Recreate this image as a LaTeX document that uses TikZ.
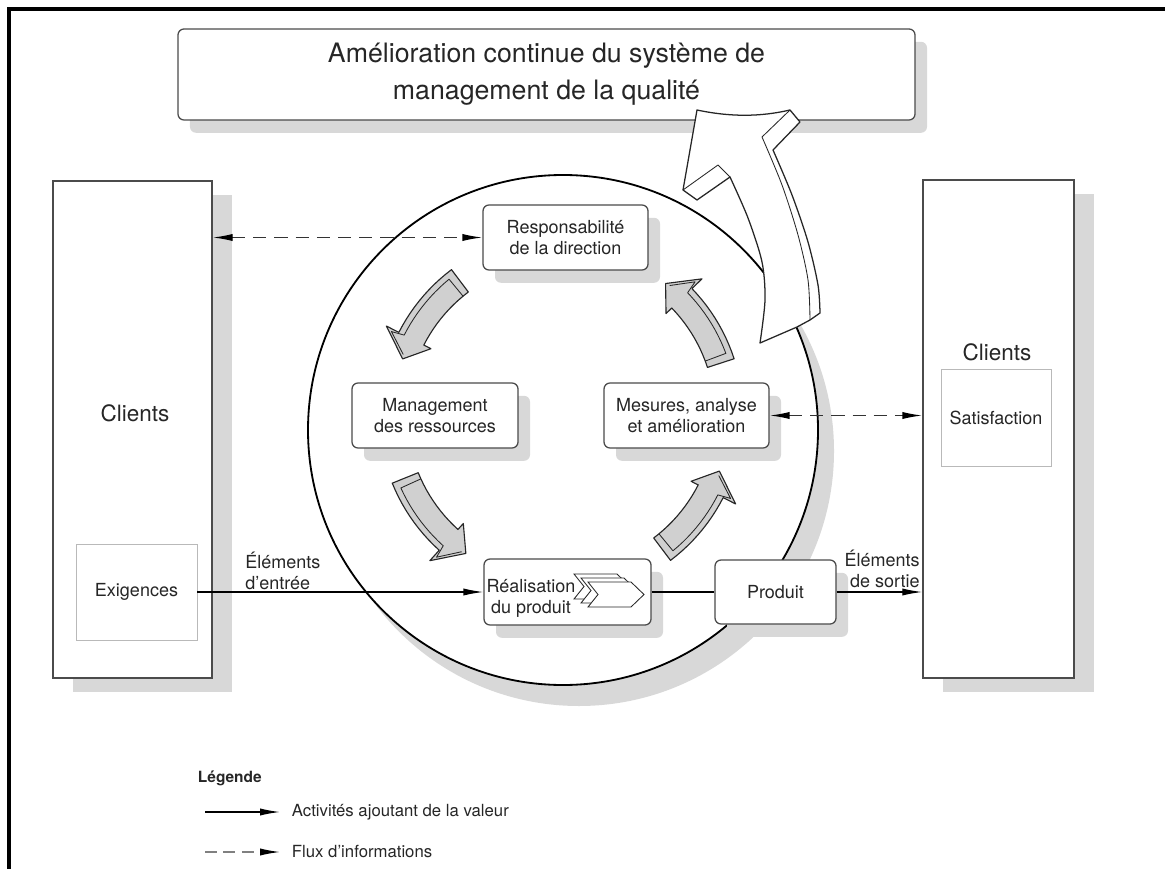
\documentclass[tikz,border=0pt]{standalone}
\usepackage{fontspec}
\setmainfont{TeX Gyre Heros}
\usetikzlibrary{arrows.meta, shadows, positioning, calc}

\definecolor{shadowgray}{RGB}{216,216,216}
\definecolor{arrowgray}{RGB}{208,208,208}
\definecolor{edgegray}{RGB}{75,75,75}
\definecolor{thingray}{RGB}{185,185,185}
\newcommand{\boxfont}{\fontsize{12.8}{15}\selectfont}

\tikzset{
  box/.style={draw=edgegray, line width=0.9pt, fill=white, rounded corners=1.5mm,
    align=center, font=\boxfont, text=black!85,
    drop shadow={shadow xshift=3mm, shadow yshift=-3.2mm, fill=shadowgray, opacity=1}},
  clientbox/.style={draw=edgegray, line width=1pt, fill=white,
    drop shadow={shadow xshift=5mm, shadow yshift=-3.6mm, fill=shadowgray, opacity=1}},
  inbox/.style={draw=thingray, line width=0.6pt, fill=white, font=\boxfont, text=black!85},
  txt/.style={font=\boxfont, text=black!85, inner sep=0pt},
  flow/.style={line width=0.9pt, -{Latex[length=5mm, width=1.8mm]}},
  info/.style={line width=1pt, draw=black!80, dash pattern=on 3.3mm off 2mm,
    {Latex[length=5mm, width=1.8mm, color=black]}-{Latex[length=5mm, width=1.8mm, color=black]}},
  cyclearr/.style={draw=black!85, line width=0.8pt, fill=arrowgray, line join=round},
  bevel/.style={draw=black!85, line width=0.6pt, line join=round},
  bigarr/.style={draw=black!85, line width=0.9pt, fill=white, line join=round},
}

\begin{document}
\begin{tikzpicture}[x=0.25mm, y=-0.25mm]
      \useasboundingbox (0,0) rectangle (1165,869);

      % Frame
      \draw[line width=2.2pt] (9,869) -- (9,9) -- (1165,9);

      % Title box
      \node[box, minimum width=184.25mm, minimum height=22.75mm,
            font=\fontsize{19}{26.3}\selectfont] (title) at (546.5,74.5)
            {Amélioration continue du système de\\management de la qualité};

      % Clients on both sides
      \node[clientbox, minimum width=39.75mm, minimum height=124.25mm] (clientsL) at (132.5,429.5) {};
      \node[font=\fontsize{16}{19}\selectfont, text=black!85] (clientsLtxt) at (135,413) {Clients};
      \node[inbox, minimum width=30.25mm, minimum height=24mm] (exig) at (136.5,592) {Exigences};

      \node[clientbox, minimum width=37.75mm, minimum height=124.5mm] (clientsR) at (998.5,429) {};
      \node[font=\fontsize{16}{19}\selectfont, text=black!85] (clientsRtxt) at (997,352) {Clients};
      \node[inbox, minimum width=27.5mm, minimum height=24.25mm] (satis) at (996,417.5) {Satisfaction};

      % Process circle
      \fill[shadowgray] (579,451) circle[radius=255];
      \draw[line width=1.3pt, fill=white] (563,430) circle[radius=255];

      % Processes
      \node[box, minimum width=41.25mm, minimum height=16.25mm] (resp) at (565.5,237.5) {Responsabilité\\de la direction};
      \node[box, minimum width=41.5mm, minimum height=16.25mm] (mgmt) at (435,415.5) {Management\\des ressources};
      \node[box, minimum width=41.25mm, minimum height=16.25mm] (mes) at (686.5,415.5) {Mesures, analyse\\et amélioration};
      \node[box, minimum width=41.75mm, minimum height=16.5mm] (real) at (567.5,592) {};
      \node[box, minimum width=30.25mm, minimum height=16mm] (prod) at (775.5,592) {Produit};

      % Stacked chevrons in the realisation box
      \foreach \dx/\dy in {-14/-8, -7/-4, 0/0} {
          \draw[fill=white, line width=0.6pt, draw=black!85, shift={(\dx,\dy)}]
              (588,582) -- (631,582) -- (644,594.5) -- (631,607) -- (588,607) -- (598,594.5) -- cycle;
      }
      \node[txt, align=center] (realtxt) at (531,598) {Réalisation\\du produit};

      % Cycle arrows around the centre
      \foreach \tail in {233,158,53,342} {
          \pgfmathsetmacro\tip{\tail-33.5}
          \pgfmathsetmacro\hb{\tip+7.5}
          \pgfmathsetmacro\tc{\tail-2.5}
          \draw[cyclearr] plot[domain=\tail:\hb, samples=12] ({561+182*cos(\x)},{415+182*sin(\x)})
              -- ({561+196*cos(\hb)},{415+196*sin(\hb)})
              -- ({561+168*cos(\tip)},{415+168*sin(\tip)})
              -- ({561+146*cos(\hb)},{415+146*sin(\hb)})
              -- plot[domain=\hb:\tail, samples=12] ({561+154*cos(\x)},{415+154*sin(\x)}) -- cycle;
          \draw[bevel] ({561+154*cos(\tc)},{415+154*sin(\tc)})
              -- plot[domain=\tc:\hb, samples=12] ({561+176*cos(\x)},{415+176*sin(\x)})
              -- ({561+189*cos(\hb-0.8)},{415+189*sin(\hb-0.8)})
              -- ({561+169*cos(\tip+1.5)},{415+169*sin(\tip+1.5)});
      }

      % Flows
      \draw[flow] (exig) -- (real);
      \draw[line width=0.9pt] (real) -- (prod);
      \draw[flow] (prod.east) -- (prod.east -| clientsR.west);
      \draw[info] (clientsL.east |- resp.west) -- (resp.west);
      \draw[info] (mes.east) -- (mes.east -| clientsR.west);

      \node[txt, align=left, anchor=west] (inLbl) at (245,571) {Éléments\\d'entrée};
      \node[txt, align=right, anchor=east] (outLbl) at (920,569) {Éléments\\de sortie};

      % Continual improvement arrow
      \draw[bigarr] plot[smooth] coordinates {(760,343) (765,300) (762,262) (748,218) (730,177)}
          -- (697,200) -- (683,190) -- (697,110) .. controls (730,117) and (760,117) .. (790,110)
          -- (800,122) -- (773,150)
          -- plot[smooth] coordinates {(773,150) (792,195) (808,242) (818,285) (820,313)}
          -- (810,320) -- (797,327) -- cycle;
      \draw[bevel] (683,190) -- (718,165) -- (730,177);
      \draw[bevel] (790,110) -- (762,137)
          -- plot[smooth] coordinates {(762,137) (782,185) (798,235) (808,280) (810,320)};

      % Legend
      \node[anchor=west, font=\bfseries\fontsize{11}{13}\selectfont, text=black!85] (legTitle) at (193,778) {Légende};
      \node[anchor=west, font=\fontsize{11.9}{14}\selectfont, text=black!85] (legAct) at (287,812) {Activités ajoutant de la valeur};
      \node[anchor=west, font=\fontsize{11.9}{14}\selectfont, text=black!85] (legInfo) at (287,851) {Flux d'informations};
      \coordinate (legA) at (205,812);
      \coordinate (legB) at (205,852);
      \draw[flow] (legA) -- ([xshift=-1.75mm]legAct.west);
      \draw[line width=0.9pt, draw=black!50, dash pattern=on 3mm off 1.6mm,
            -{Latex[length=5mm, width=1.8mm, color=black]}] (legB) -- ([xshift=-1.75mm]legInfo.west |- legB);
\end{tikzpicture}
\end{document}
